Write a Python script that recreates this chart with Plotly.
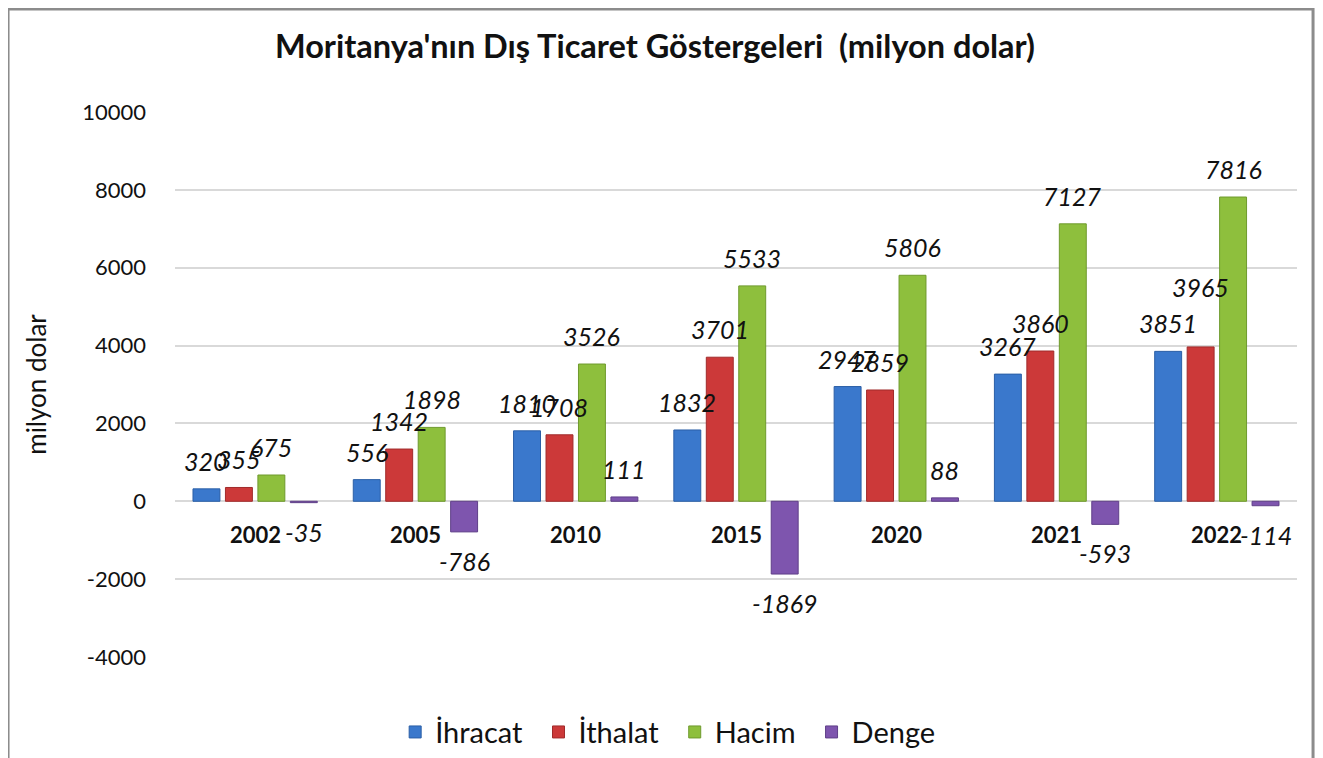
import plotly.graph_objects as go

years = ["2002", "2005", "2010", "2015", "2020", "2021", "2022"]
ihracat = [320, 556, 1810, 1832, 2947, 3267, 3851]
ithalat = [355, 1342, 1708, 3701, 2859, 3860, 3965]
hacim = [675, 1898, 3526, 5533, 5806, 7127, 7816]
denge = [-35, -786, 111, -1869, 88, -593, -114]
ytick_vals = [-4000, -2000, 0, 2000, 4000, 6000, 8000, 10000]
ytick_text = ["-4000", "-2000", "0", "2000", "4000", "6000", "8000", "10000"]

series_names = ["İhracat", "İthalat", "Hacim", "Denge"]
series_values = [ihracat, ithalat, hacim, denge]
colors = ["#3A78CC", "#CC3939", "#8EBF3D", "#7E55AE"]
line_colors = ["#2B5FA6", "#A02B2B", "#6F9A2D", "#5F3F88"]
# extra label lift (px) to avoid a collision, as in the original chart
label_lift = {("İthalat", "2022"): 32}

FONT = "Lato"
BARGAP = 0.19
fig = go.Figure()

for name, vals, c, lc in zip(series_names, series_values, colors, line_colors):
    fig.add_trace(go.Bar(
        x=years, y=vals, name=name + "\u00a0\u2009",
        marker=dict(color=c, line=dict(color=lc, width=1)),
        hoverinfo="skip",
    ))

# data labels placed at each bar's slot within the category band
n = len(series_names)
slot = (1 - BARGAP) / n
for k, (name, vals) in enumerate(zip(series_names, series_values)):
    off = (k - (n - 1) / 2) * slot
    for i, v in enumerate(vals):
        lift = label_lift.get((name, years[i]), 0)
        fig.add_annotation(
            x=i + off, y=v, xref="x", yref="y", text=str(v), showarrow=False,
            yanchor="bottom" if v >= 0 else "top",
            yshift=(11 + lift) if v >= 0 else -12,
            font=dict(family=FONT, size=25, color="#111111", style="italic"),
        )

for i, yr in enumerate(years):
    fig.add_annotation(x=i, y=-850, text="<b>%s</b>" % yr, showarrow=False,
                       font=dict(family=FONT, size=22, color="#111111"))

fig.add_shape(type="rect", xref="paper", yref="paper",
              x0=-0.1488, x1=1.0143, y0=-0.25, y1=1.189,
              line=dict(color="#8c8c8c", width=3), layer="below")

fig.update_layout(
    width=1315, height=750,
    margin=dict(l=167, r=26, t=104, b=101, autoexpand=False),
    paper_bgcolor="white", plot_bgcolor="white",
    barmode="group", bargap=BARGAP, bargroupgap=0.17,
    title=dict(text="<b>Moritanya'nın Dış Ticaret Göstergeleri  (milyon dolar)</b>",
               x=0.492, xanchor="center", y=0.948, yanchor="middle",
               font=dict(family=FONT, size=32.5, color="#111111")),
    font=dict(family=FONT, color="#111111"),
    xaxis=dict(type="category", range=[-0.5, len(years) - 0.5],
               showticklabels=False, showgrid=False, zeroline=False, showline=False),
    yaxis=dict(range=[-4000, 10000], tickvals=ytick_vals, ticktext=ytick_text,
               showgrid=True, gridcolor="#d9d9d9", gridwidth=2,
               zeroline=True, zerolinecolor="#d9d9d9", zerolinewidth=2,
               tickfont=dict(family=FONT, size=22, color="#111111"),
               ticklabelstandoff=28,
               title=dict(text="milyon dolar", font=dict(family=FONT, size=26, color="#111111"),
                          standoff=28)),
    legend=dict(orientation="h", x=0.444, xanchor="center", y=-0.091, yanchor="top",
                font=dict(family=FONT, size=29, color="#111111"),
                itemwidth=30, tracegroupgap=0),
)

fig.write_html("out.html")
